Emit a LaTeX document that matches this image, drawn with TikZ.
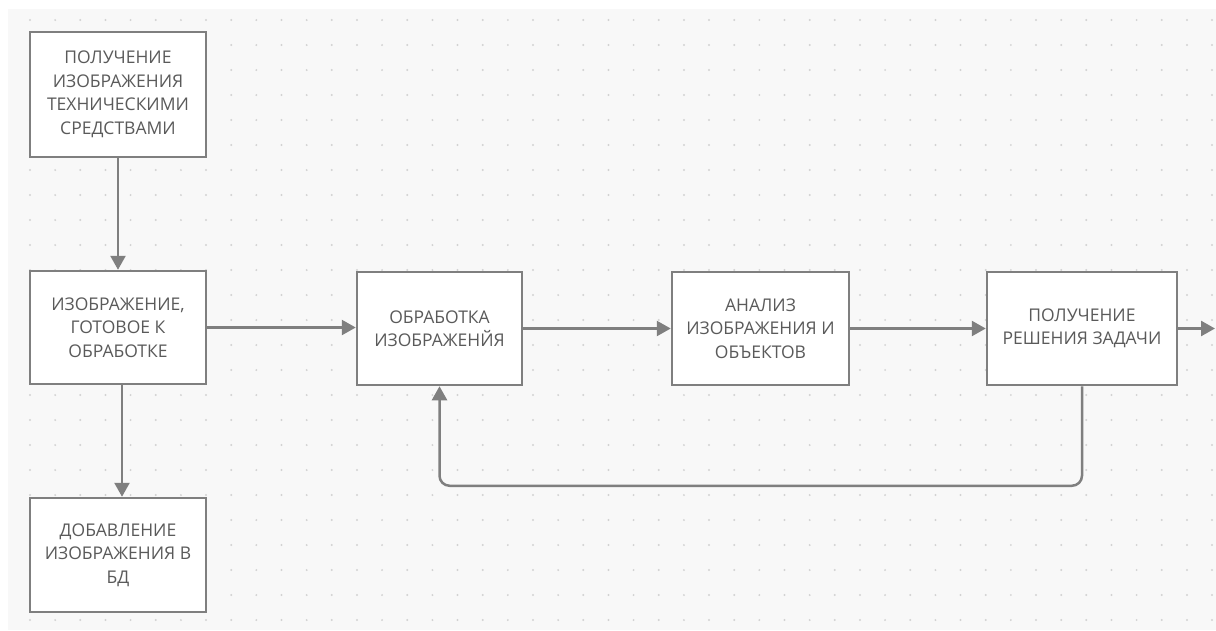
\documentclass[tikz,border=0pt]{standalone}
\usepackage{fontspec}
\setmainfont{Open Sans}
\usetikzlibrary{arrows.meta}
\definecolor{bgc}{HTML}{F8F8F8}
\definecolor{dotc}{HTML}{D2D2D2}
\definecolor{linec}{HTML}{7F7F7F}
\definecolor{txtc}{HTML}{5A5A5A}
\tikzset{
  box/.style={draw=linec, line width=2.5pt, fill=white, inner sep=0pt, align=center,
    text=txtc, font=\fontsize{17.5}{23.5}\selectfont},
  conn/.style={draw=linec, line width=2.5pt, -{Triangle[length=14pt,width=15pt]}},
}
\begin{document}
\begin{tikzpicture}[x=1pt,y=-1pt]
\useasboundingbox (0,0) rectangle (1216,630);
\fill[white] (0,0) rectangle (1216,630);
\fill[bgc] (8,9) rectangle (1216,630);
\foreach \i in {0,...,47} {
  \foreach \j in {0,...,24} {
    \fill[dotc] (30+25.15*\i,20+25*\j) circle (1.1pt);
  }
}
\node[box, minimum width=176pt, minimum height=125pt] (b1) at (118,94.5)
  {ПОЛУЧЕНИЕ\\ИЗОБРАЖЕНИЯ\\ТЕХНИЧЕСКИМИ\\СРЕДСТВАМИ};
\node[box, minimum width=176pt, minimum height=113pt] (b2) at (118,327.5)
  {ИЗОБРАЖЕНИЕ,\\ГОТОВОЕ К\\ОБРАБОТКЕ};
\node[box, minimum width=176pt, minimum height=114pt] (b3) at (118,555)
  {ДОБАВЛЕНИЕ\\ИЗОБРАЖЕНИЯ В\\БД};
\node[box, minimum width=165pt, minimum height=113pt] (b4) at (439.5,328.5)
  {ОБРАБОТКА\\ИЗОБРАЖЕНЙЯ};
\node[box, minimum width=177pt, minimum height=113pt] (b5) at (760.5,328.5)
  {АНАЛИЗ\\ИЗОБРАЖЕНИЯ И\\ОБЪЕКТОВ};
\node[box, minimum width=190pt, minimum height=113pt] (b6) at (1082,328.5)
  {ПОЛУЧЕНИЕ\\РЕШЕНИЯ ЗАДАЧИ};
\coordinate (out) at (1215,328.5);
\draw[conn] (b1.south) -- (b2.north);
\draw[conn] ([xshift=4pt]b2.south) -- ([xshift=4pt]b3.north);
\draw[conn] (b2.east) -- (b2.east -| b4.west);
\draw[conn] (b4.east) -- (b5.west);
\draw[conn] (b5.east) -- (b6.west);
\draw[conn] (b6.east) -- (out);
\draw[conn, rounded corners=10pt] (b6.south) -- ++(0,99.5) -| (b4.south);
\end{tikzpicture}
\end{document}
